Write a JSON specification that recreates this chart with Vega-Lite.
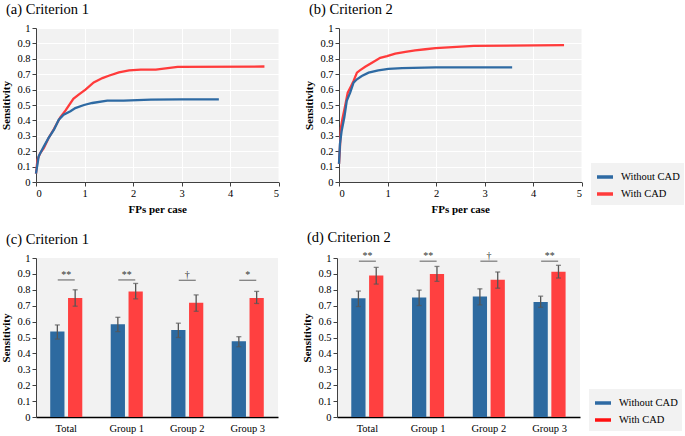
{
  "$schema": "https://vega.github.io/schema/vega-lite/v6.json",
  "background": "white",
  "padding": {"left": 0, "top": 1, "right": 0, "bottom": 0},
  "datasets": {
    "froc_a": [
      {"method": "With CAD", "fp": 0, "sens": 0.054},
      {"method": "With CAD", "fp": 0.03, "sens": 0.145},
      {"method": "With CAD", "fp": 0.09, "sens": 0.19},
      {"method": "With CAD", "fp": 0.16, "sens": 0.22},
      {"method": "With CAD", "fp": 0.26, "sens": 0.286},
      {"method": "With CAD", "fp": 0.37, "sens": 0.344},
      {"method": "With CAD", "fp": 0.5, "sens": 0.42},
      {"method": "With CAD", "fp": 0.61, "sens": 0.465},
      {"method": "With CAD", "fp": 0.77, "sens": 0.54},
      {"method": "With CAD", "fp": 0.88, "sens": 0.567},
      {"method": "With CAD", "fp": 1.02, "sens": 0.6},
      {"method": "With CAD", "fp": 1.19, "sens": 0.647},
      {"method": "With CAD", "fp": 1.37, "sens": 0.675},
      {"method": "With CAD", "fp": 1.5, "sens": 0.69},
      {"method": "With CAD", "fp": 1.71, "sens": 0.712},
      {"method": "With CAD", "fp": 1.92, "sens": 0.725},
      {"method": "With CAD", "fp": 2.16, "sens": 0.73},
      {"method": "With CAD", "fp": 2.47, "sens": 0.73},
      {"method": "With CAD", "fp": 2.92, "sens": 0.748},
      {"method": "With CAD", "fp": 4.71, "sens": 0.75},
      {"method": "Without CAD", "fp": 0, "sens": 0.054},
      {"method": "Without CAD", "fp": 0.055, "sens": 0.167},
      {"method": "Without CAD", "fp": 0.16, "sens": 0.23},
      {"method": "Without CAD", "fp": 0.26, "sens": 0.286},
      {"method": "Without CAD", "fp": 0.37, "sens": 0.34},
      {"method": "Without CAD", "fp": 0.47, "sens": 0.405},
      {"method": "Without CAD", "fp": 0.57, "sens": 0.437},
      {"method": "Without CAD", "fp": 0.71, "sens": 0.46},
      {"method": "Without CAD", "fp": 0.81, "sens": 0.48},
      {"method": "Without CAD", "fp": 0.99, "sens": 0.5},
      {"method": "Without CAD", "fp": 1.16, "sens": 0.513},
      {"method": "Without CAD", "fp": 1.47, "sens": 0.528},
      {"method": "Without CAD", "fp": 1.81, "sens": 0.528},
      {"method": "Without CAD", "fp": 2.37, "sens": 0.535},
      {"method": "Without CAD", "fp": 2.99, "sens": 0.537},
      {"method": "Without CAD", "fp": 3.77, "sens": 0.537}
    ],
    "froc_b": [
      {"method": "With CAD", "fp": 0, "sens": 0.118},
      {"method": "With CAD", "fp": 0.02, "sens": 0.226},
      {"method": "With CAD", "fp": 0.04, "sens": 0.355},
      {"method": "With CAD", "fp": 0.07, "sens": 0.41},
      {"method": "With CAD", "fp": 0.12, "sens": 0.484},
      {"method": "With CAD", "fp": 0.18, "sens": 0.58},
      {"method": "With CAD", "fp": 0.25, "sens": 0.624},
      {"method": "With CAD", "fp": 0.3, "sens": 0.656},
      {"method": "With CAD", "fp": 0.37, "sens": 0.71},
      {"method": "With CAD", "fp": 0.43, "sens": 0.725},
      {"method": "With CAD", "fp": 0.54, "sens": 0.748},
      {"method": "With CAD", "fp": 0.68, "sens": 0.774},
      {"method": "With CAD", "fp": 0.85, "sens": 0.806},
      {"method": "With CAD", "fp": 0.99, "sens": 0.817},
      {"method": "With CAD", "fp": 1.16, "sens": 0.834},
      {"method": "With CAD", "fp": 1.37, "sens": 0.845},
      {"method": "With CAD", "fp": 1.57, "sens": 0.854},
      {"method": "With CAD", "fp": 1.78, "sens": 0.862},
      {"method": "With CAD", "fp": 1.99, "sens": 0.869},
      {"method": "With CAD", "fp": 2.78, "sens": 0.884},
      {"method": "With CAD", "fp": 4.64, "sens": 0.889},
      {"method": "Without CAD", "fp": 0, "sens": 0.118},
      {"method": "Without CAD", "fp": 0.02, "sens": 0.247},
      {"method": "Without CAD", "fp": 0.055, "sens": 0.333},
      {"method": "Without CAD", "fp": 0.11, "sens": 0.42},
      {"method": "Without CAD", "fp": 0.16, "sens": 0.527},
      {"method": "Without CAD", "fp": 0.23, "sens": 0.58},
      {"method": "Without CAD", "fp": 0.3, "sens": 0.645},
      {"method": "Without CAD", "fp": 0.37, "sens": 0.667},
      {"method": "Without CAD", "fp": 0.47, "sens": 0.688},
      {"method": "Without CAD", "fp": 0.61, "sens": 0.71},
      {"method": "Without CAD", "fp": 0.81, "sens": 0.725},
      {"method": "Without CAD", "fp": 1.02, "sens": 0.735},
      {"method": "Without CAD", "fp": 1.3, "sens": 0.74},
      {"method": "Without CAD", "fp": 1.99, "sens": 0.744},
      {"method": "Without CAD", "fp": 3.57, "sens": 0.744}
    ],
    "bars_c": [
      {"group": "Total", "method": "Without CAD", "sens": 0.537, "lo": 0.49, "hi": 0.579},
      {"group": "Total", "method": "With CAD", "sens": 0.749, "lo": 0.697, "hi": 0.8},
      {"group": "Group 1", "method": "Without CAD", "sens": 0.583, "lo": 0.537, "hi": 0.627},
      {"group": "Group 1", "method": "With CAD", "sens": 0.79, "lo": 0.743, "hi": 0.84},
      {"group": "Group 2", "method": "Without CAD", "sens": 0.547, "lo": 0.5, "hi": 0.59},
      {"group": "Group 2", "method": "With CAD", "sens": 0.718, "lo": 0.665, "hi": 0.768},
      {"group": "Group 3", "method": "Without CAD", "sens": 0.476, "lo": 0.442, "hi": 0.505},
      {"group": "Group 3", "method": "With CAD", "sens": 0.749, "lo": 0.714, "hi": 0.79}
    ],
    "bars_d": [
      {"group": "Total", "method": "Without CAD", "sens": 0.747, "lo": 0.695, "hi": 0.792},
      {"group": "Total", "method": "With CAD", "sens": 0.89, "lo": 0.836, "hi": 0.941},
      {"group": "Group 1", "method": "Without CAD", "sens": 0.752, "lo": 0.701, "hi": 0.798},
      {"group": "Group 1", "method": "With CAD", "sens": 0.9, "lo": 0.853, "hi": 0.947},
      {"group": "Group 2", "method": "Without CAD", "sens": 0.758, "lo": 0.705, "hi": 0.806},
      {"group": "Group 2", "method": "With CAD", "sens": 0.863, "lo": 0.81, "hi": 0.912},
      {"group": "Group 3", "method": "Without CAD", "sens": 0.724, "lo": 0.69, "hi": 0.76},
      {"group": "Group 3", "method": "With CAD", "sens": 0.914, "lo": 0.874, "hi": 0.954}
    ],
    "sig_c": [
      {"group": "Total", "y": 0.862, "mark": "**"},
      {"group": "Group 1", "y": 0.862, "mark": "**"},
      {"group": "Group 2", "y": 0.86, "mark": "†"},
      {"group": "Group 3", "y": 0.86, "mark": "*"}
    ],
    "sig_d": [
      {"group": "Total", "y": 0.98, "mark": "**"},
      {"group": "Group 1", "y": 0.98, "mark": "**"},
      {"group": "Group 2", "y": 0.98, "mark": "†"},
      {"group": "Group 3", "y": 0.98, "mark": "**"}
    ]
  },
  "resolve": {"scale": {"color": "independent"}, "legend": {"color": "independent"}},
  "vconcat": [
    {
      "spacing": 23,
      "resolve": {"scale": {"color": "independent"}, "legend": {"color": "independent"}},
      "hconcat": [
        {
          "title": {"text": "(a) Criterion 1"},
          "width": 242.5, "height": 154,
          "data": {"name": "froc_a"},
          "mark": {"type": "line", "strokeWidth": 2.3, "interpolate": "linear"},
          "encoding": {
            "x": {"field": "fp", "type": "quantitative", "scale": {"domain": [0, 5], "nice": false},
                  "axis": {"title": "FPs per case", "values": [0, 1, 2, 3, 4, 5], "grid": true}},
            "y": {"field": "sens", "type": "quantitative", "scale": {"domain": [0, 1], "nice": false},
                  "axis": {"title": "Sensitivity", "values": [0, 0.1, 0.2, 0.3, 0.4, 0.5, 0.6, 0.7, 0.8, 0.9, 1], "format": "~g", "grid": true}},
            "color": {"field": "method", "type": "nominal",
                      "scale": {"domain": ["Without CAD", "With CAD"], "range": ["#2e6aa3", "#ff3b3b"]},
                      "legend": null},
            "order": {"field": "fp", "type": "quantitative"}
          }
        },
        {
          "title": {"text": "(b) Criterion 2"},
          "width": 242.5, "height": 154,
          "data": {"name": "froc_b"},
          "mark": {"type": "line", "strokeWidth": 2.3, "interpolate": "linear"},
          "encoding": {
            "x": {"field": "fp", "type": "quantitative", "scale": {"domain": [0, 5], "nice": false},
                  "axis": {"title": "FPs per case", "values": [0, 1, 2, 3, 4, 5], "grid": true}},
            "y": {"field": "sens", "type": "quantitative", "scale": {"domain": [0, 1], "nice": false},
                  "axis": {"title": "Sensitivity", "values": [0, 0.1, 0.2, 0.3, 0.4, 0.5, 0.6, 0.7, 0.8, 0.9, 1], "format": "~g", "grid": true}},
            "color": {"field": "method", "type": "nominal",
                      "scale": {"domain": ["Without CAD", "With CAD"], "range": ["#2e6aa3", "#ff3b3b"]},
                      "legend": {"orient": "none", "legendX": 252, "legendY": 135, "title": null,
                                 "encode": {"symbols": {"update": {"stroke": {"signal": "datum.value === 'With CAD' ? '#ff1010' : '#2e6aa3'"}}}}}},
            "order": {"field": "fp", "type": "quantitative"}
          }
        }
      ]
    },
    {
      "spacing": 23,
      "resolve": {"scale": {"color": "independent"}, "legend": {"color": "independent"}},
      "hconcat": [
        {
          "title": {"text": "(c) Criterion 1"},
          "width": 242, "height": 159,
          "encoding": {
            "x": {"field": "group", "type": "nominal", "sort": ["Total", "Group 1", "Group 2", "Group 3"],
                  "scale": {"paddingInner": 0.47, "paddingOuter": 0.235},
                  "axis": {"title": null, "labelAngle": 0, "ticks": false, "domainColor": "#000", "domainWidth": 1.5, "labelPadding": 6}},
            "y": {"field": "sens", "type": "quantitative", "scale": {"domain": [0, 1], "nice": false},
                  "axis": {"title": "Sensitivity", "values": [0, 0.1, 0.2, 0.3, 0.4, 0.5, 0.6, 0.7, 0.8, 0.9, 1], "format": "~g", "grid": false}}
          },
          "layer": [
            {
              "data": {"name": "bars_c"},
              "mark": {"type": "bar"},
              "encoding": {
                "xOffset": {"field": "method", "type": "nominal", "sort": ["Without CAD", "With CAD"], "scale": {"paddingInner": 0.2}},
                "color": {"field": "method", "type": "nominal",
                          "scale": {"domain": ["Without CAD", "With CAD"], "range": ["#2d6aa0", "#ff4040"]},
                          "legend": null}
              }
            },
            {
              "data": {"name": "bars_c"},
              "mark": {"type": "rule", "color": "#555555", "strokeWidth": 1.3},
              "encoding": {
                "xOffset": {"field": "method", "type": "nominal", "sort": ["Without CAD", "With CAD"]},
                "y": {"field": "lo", "type": "quantitative", "title": "Sensitivity"},
                "y2": {"field": "hi"}
              }
            },
            {
              "data": {"name": "bars_c"},
              "mark": {"type": "tick", "orient": "horizontal", "color": "#555555", "size": 5, "thickness": 1.3},
              "encoding": {
                "xOffset": {"field": "method", "type": "nominal", "sort": ["Without CAD", "With CAD"]},
                "y": {"field": "lo", "type": "quantitative", "title": "Sensitivity"}
              }
            },
            {
              "data": {"name": "bars_c"},
              "mark": {"type": "tick", "orient": "horizontal", "color": "#555555", "size": 5, "thickness": 1.3},
              "encoding": {
                "xOffset": {"field": "method", "type": "nominal", "sort": ["Without CAD", "With CAD"]},
                "y": {"field": "hi", "type": "quantitative", "title": "Sensitivity"}
              }
            },
            {
              "data": {"name": "sig_c"},
              "mark": {"type": "tick", "orient": "horizontal", "color": "#333333", "size": 17, "thickness": 1.1},
              "encoding": {"y": {"field": "y", "type": "quantitative", "title": "Sensitivity"}}
            },
            {
              "data": {"name": "sig_c"},
              "mark": {"type": "text", "fontSize": 10, "color": "#333333", "baseline": "alphabetic", "dy": -2},
              "encoding": {"y": {"field": "y", "type": "quantitative", "title": "Sensitivity"}, "text": {"field": "mark"}}
            }
          ]
        },
        {
          "title": {"text": "(d) Criterion 2"},
          "width": 243, "height": 159,
          "encoding": {
            "x": {"field": "group", "type": "nominal", "sort": ["Total", "Group 1", "Group 2", "Group 3"],
                  "scale": {"paddingInner": 0.47, "paddingOuter": 0.235},
                  "axis": {"title": null, "labelAngle": 0, "ticks": false, "domainColor": "#000", "domainWidth": 1.5, "labelPadding": 6}},
            "y": {"field": "sens", "type": "quantitative", "scale": {"domain": [0, 1], "nice": false},
                  "axis": {"title": "Sensitivity", "values": [0, 0.1, 0.2, 0.3, 0.4, 0.5, 0.6, 0.7, 0.8, 0.9, 1], "format": "~g", "grid": false}}
          },
          "layer": [
            {
              "data": {"name": "bars_d"},
              "mark": {"type": "bar"},
              "encoding": {
                "xOffset": {"field": "method", "type": "nominal", "sort": ["Without CAD", "With CAD"], "scale": {"paddingInner": 0.2}},
                "color": {"field": "method", "type": "nominal",
                          "scale": {"domain": ["Without CAD", "With CAD"], "range": ["#2d6aa0", "#ff4040"]},
                          "legend": {"orient": "none", "legendX": 252, "legendY": 131, "title": null,
                                     "encode": {"symbols": {"update": {"stroke": {"signal": "datum.value === 'With CAD' ? '#ff1010' : '#2e6aa3'"}}}}}}
              }
            },
            {
              "data": {"name": "bars_d"},
              "mark": {"type": "rule", "color": "#555555", "strokeWidth": 1.3},
              "encoding": {
                "xOffset": {"field": "method", "type": "nominal", "sort": ["Without CAD", "With CAD"]},
                "y": {"field": "lo", "type": "quantitative", "title": "Sensitivity"},
                "y2": {"field": "hi"}
              }
            },
            {
              "data": {"name": "bars_d"},
              "mark": {"type": "tick", "orient": "horizontal", "color": "#555555", "size": 5, "thickness": 1.3},
              "encoding": {
                "xOffset": {"field": "method", "type": "nominal", "sort": ["Without CAD", "With CAD"]},
                "y": {"field": "lo", "type": "quantitative", "title": "Sensitivity"}
              }
            },
            {
              "data": {"name": "bars_d"},
              "mark": {"type": "tick", "orient": "horizontal", "color": "#555555", "size": 5, "thickness": 1.3},
              "encoding": {
                "xOffset": {"field": "method", "type": "nominal", "sort": ["Without CAD", "With CAD"]},
                "y": {"field": "hi", "type": "quantitative", "title": "Sensitivity"}
              }
            },
            {
              "data": {"name": "sig_d"},
              "mark": {"type": "tick", "orient": "horizontal", "color": "#333333", "size": 17, "thickness": 1.1},
              "encoding": {"y": {"field": "y", "type": "quantitative", "title": "Sensitivity"}}
            },
            {
              "data": {"name": "sig_d"},
              "mark": {"type": "text", "fontSize": 10, "color": "#333333", "baseline": "alphabetic", "dy": -2},
              "encoding": {"y": {"field": "y", "type": "quantitative", "title": "Sensitivity"}, "text": {"field": "mark"}}
            }
          ]
        }
      ]
    }
  ],
  "spacing": 14,
  "config": {
    "font": "'Times New Roman', 'Liberation Serif', Tinos, 'DejaVu Serif', serif",
    "text": {"font": "'Times New Roman', 'Liberation Serif', Tinos, 'DejaVu Serif', serif"},
    "view": {"fill": "#f2f2f2", "stroke": null},
    "title": {"font": "'Times New Roman', 'Liberation Serif', Tinos, 'DejaVu Serif', serif", "fontSize": 14.5, "fontWeight": "normal", "color": "#000", "anchor": "start", "frame": "group", "dx": -30, "offset": 6},
    "axis": {"labelFont": "'Times New Roman', 'Liberation Serif', Tinos, 'DejaVu Serif', serif", "labelFontSize": 10.5, "labelColor": "#000", "titleFont": "'Times New Roman', 'Liberation Serif', Tinos, 'DejaVu Serif', serif", "titleFontWeight": "bold", "titleFontSize": 11, "titleColor": "#000", "domainColor": "#404040", "tickColor": "#404040", "tickSize": 4, "gridColor": "#ffffff", "gridWidth": 1, "labelPadding": 2, "titlePadding": 5},
    "legend": {"labelFont": "'Times New Roman', 'Liberation Serif', Tinos, 'DejaVu Serif', serif", "labelFontSize": 10.5, "labelColor": "#000", "symbolType": "stroke", "symbolStrokeWidth": 3.5, "symbolSize": 256, "fillColor": "#f2f2f2", "padding": 4, "rowPadding": 0, "labelOffset": 6}
  }
}
